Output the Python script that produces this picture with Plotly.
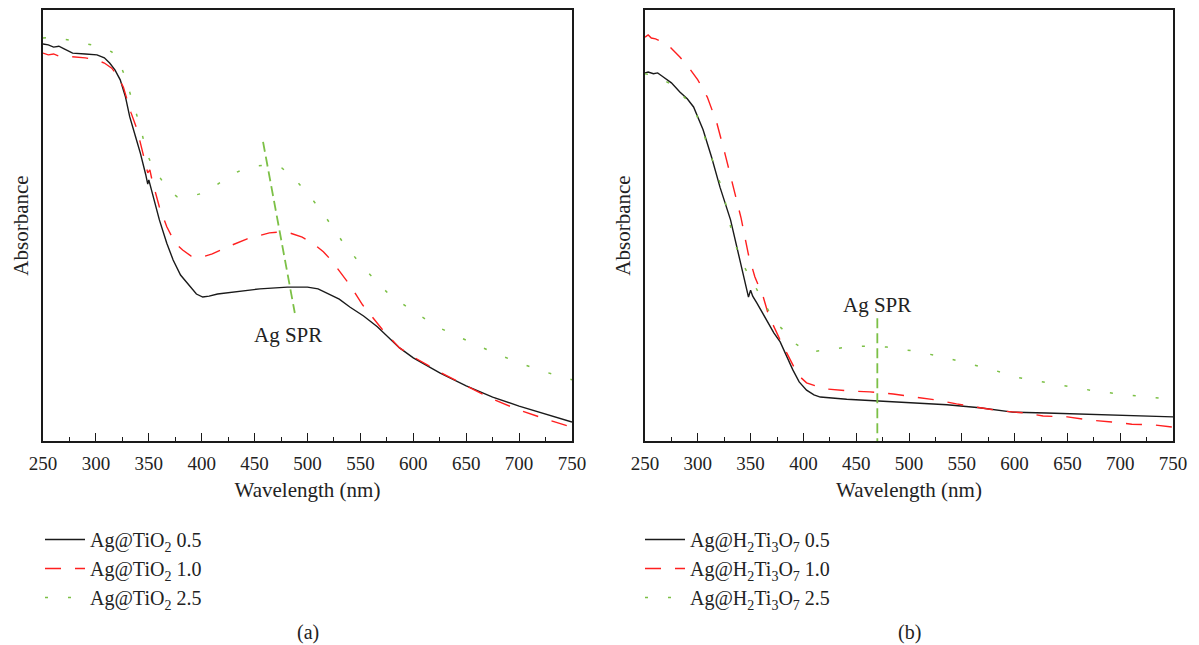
import plotly.graph_objects as go

# ---- panel (a): Ag@TiO2 ----
wl_a_05 = [250, 255, 260, 265, 270, 278, 290, 301, 308, 313, 318, 323, 328, 332, 337, 342, 347, 349, 350, 353,
           360, 367, 373, 380, 389, 395, 401, 407, 415, 430, 455, 481, 500, 510, 518, 530, 540, 553, 566, 587,
           600, 625, 650, 675, 700, 725, 750]
abs_a_05 = [0.921, 0.919, 0.914, 0.916, 0.910, 0.900, 0.898, 0.896, 0.889, 0.877, 0.861, 0.838, 0.798, 0.752,
            0.710, 0.668, 0.619, 0.596, 0.606, 0.578, 0.513, 0.459, 0.420, 0.385, 0.357, 0.341, 0.334, 0.336,
            0.341, 0.346, 0.353, 0.357, 0.357, 0.353, 0.343, 0.329, 0.311, 0.290, 0.265, 0.216, 0.193, 0.158,
            0.128, 0.102, 0.081, 0.063, 0.044]

wl_a_10 = [250, 255, 260, 265, 270, 280, 290, 300, 308, 315, 320, 326, 333, 339, 345, 349, 351, 353, 360, 367,
           375, 382, 390, 398, 410, 424, 443, 464, 475, 483, 495, 505, 515, 523, 540, 552, 571, 587, 600, 625,
           650, 675, 700, 725, 750]
abs_a_10 = [0.900, 0.896, 0.898, 0.893, 0.893, 0.891, 0.889, 0.884, 0.877, 0.865, 0.849, 0.821, 0.763, 0.722,
            0.664, 0.622, 0.629, 0.606, 0.543, 0.497, 0.459, 0.443, 0.429, 0.425, 0.434, 0.450, 0.469, 0.483,
            0.485, 0.483, 0.473, 0.459, 0.439, 0.418, 0.362, 0.316, 0.258, 0.216, 0.195, 0.160, 0.128, 0.097,
            0.072, 0.051, 0.032]

wl_a_25 = [250, 258, 276, 293, 305, 315, 322, 327, 334, 342, 348, 353, 359, 367, 377, 390, 401, 414, 427, 440,
           450, 463, 476, 487, 498, 508, 517, 534, 554, 576, 602, 627, 650, 675, 700, 725, 750]
abs_a_25 = [0.935, 0.937, 0.930, 0.921, 0.914, 0.903, 0.879, 0.849, 0.791, 0.729, 0.668, 0.640, 0.617, 0.587,
            0.566, 0.568, 0.575, 0.594, 0.617, 0.631, 0.638, 0.640, 0.633, 0.610, 0.580, 0.550, 0.520, 0.459,
            0.399, 0.343, 0.297, 0.260, 0.234, 0.206, 0.181, 0.160, 0.142]

# ---- panel (b): Ag@H2Ti3O7 ----
wl_b_05 = [250, 253, 258, 262, 267, 275, 283, 290, 296, 305, 313, 321, 331, 340, 346, 348, 350, 352, 356, 364,
           372, 378, 384, 390, 396, 403, 410, 416, 441, 470, 504, 536, 567, 598, 630, 662, 700, 750]
abs_b_05 = [0.854, 0.856, 0.852, 0.854, 0.845, 0.831, 0.810, 0.794, 0.775, 0.722, 0.659, 0.589, 0.513, 0.420,
            0.362, 0.334, 0.350, 0.336, 0.320, 0.285, 0.251, 0.230, 0.197, 0.165, 0.137, 0.118, 0.107, 0.102,
            0.097, 0.093, 0.090, 0.084, 0.077, 0.067, 0.065, 0.063, 0.060, 0.056]

wl_b_10 = [250, 253, 256, 260, 271, 283, 292, 300, 309, 318, 326, 333, 341, 348, 354, 362, 367, 378, 387, 395,
           403, 420, 444, 463, 485, 504, 526, 545, 567, 586, 610, 627, 650, 670, 692, 711, 733, 750]
abs_b_10 = [0.937, 0.942, 0.935, 0.933, 0.921, 0.891, 0.865, 0.838, 0.798, 0.738, 0.664, 0.594, 0.517, 0.432,
            0.381, 0.334, 0.292, 0.234, 0.193, 0.153, 0.135, 0.121, 0.116, 0.114, 0.109, 0.102, 0.095, 0.086,
            0.077, 0.070, 0.065, 0.058, 0.056, 0.049, 0.044, 0.039, 0.037, 0.032]

wl_b_25 = [250, 260, 276, 290, 296, 305, 313, 321, 328, 333, 342, 351, 358, 365, 373, 383, 393, 404, 416, 428,
           441, 454, 467, 479, 491, 504, 528, 553, 577, 602, 627, 652, 676, 700, 725, 750]
abs_b_25 = [0.852, 0.847, 0.826, 0.791, 0.775, 0.717, 0.659, 0.599, 0.536, 0.473, 0.413, 0.374, 0.343, 0.311,
            0.276, 0.253, 0.225, 0.206, 0.209, 0.213, 0.218, 0.220, 0.220, 0.218, 0.213, 0.209, 0.197, 0.181,
            0.167, 0.148, 0.137, 0.125, 0.116, 0.109, 0.102, 0.097]

# Ag SPR marker lines (wavelength, absorbance)
spr_a_x = [458, 488]
spr_a_y = [0.694, 0.297]
spr_b_x = [470, 470]
spr_b_y = [0.285, 0.0]

names_a = ['Ag@TiO<sub>2</sub> 0.5', 'Ag@TiO<sub>2</sub> 1.0', 'Ag@TiO<sub>2</sub> 2.5']
names_b = ['Ag@H<sub>2</sub>Ti<sub>3</sub>O<sub>7</sub> 0.5', 'Ag@H<sub>2</sub>Ti<sub>3</sub>O<sub>7</sub> 1.0',
           'Ag@H<sub>2</sub>Ti<sub>3</sub>O<sub>7</sub> 2.5']

BLACK = '#1a1a1a'
RED = '#ff1f1f'
GREEN = '#7cc046'
FONT = 'Liberation Serif'
TXT = '#222'

styles = [dict(color=BLACK, width=1.4, dash='solid'),
          dict(color=RED, width=1.4, dash='16px,14px'),
          dict(color=GREEN, width=1.5, dash='3px,20px')]

fig = go.Figure()

series_a = [(wl_a_05, abs_a_05), (wl_a_10, abs_a_10), (wl_a_25, abs_a_25)]
series_b = [(wl_b_05, abs_b_05), (wl_b_10, abs_b_10), (wl_b_25, abs_b_25)]

for i, (x, y) in enumerate(series_a):
    fig.add_trace(go.Scatter(x=x, y=y, mode='lines', name=names_a[i], line=styles[i],
                             legendgroup='a%d' % i, legend='legend', xaxis='x', yaxis='y'))
for i, (x, y) in enumerate(series_b):
    fig.add_trace(go.Scatter(x=x, y=y, mode='lines', name=names_b[i], line=styles[i],
                             legendgroup='b%d' % i, legend='legend2', xaxis='x2', yaxis='y2'))

# SPR guide lines
fig.add_trace(go.Scatter(x=spr_a_x, y=spr_a_y, mode='lines', showlegend=False,
                         line=dict(color=GREEN, width=1.8, dash='10px,5px'), xaxis='x', yaxis='y'))
fig.add_trace(go.Scatter(x=spr_b_x, y=spr_b_y, mode='lines', showlegend=False,
                         line=dict(color=GREEN, width=1.8, dash='10px,5px'), xaxis='x2', yaxis='y2'))

xaxis_common = dict(
    range=[250, 750], dtick=50, tick0=250, automargin=False,
    ticks='inside', ticklen=8, tickwidth=1.2, tickcolor=BLACK,
    minor=dict(ticks='inside', ticklen=4, dtick=25, tick0=250, tickcolor=BLACK, tickwidth=1.2),
    showline=True, mirror=True, linecolor=BLACK, linewidth=1.5,
    showgrid=False, zeroline=False,
    tickfont=dict(family=FONT, size=19, color=TXT),
    ticklabelstandoff=4,
    title=dict(text='Wavelength (nm)', font=dict(family=FONT, size=21, color=TXT), standoff=10),
)
yaxis_common = dict(
    range=[0, 1], showticklabels=False, ticks='', automargin=False,
    showline=True, mirror=True, linecolor=BLACK, linewidth=1.5,
    showgrid=False, zeroline=False,
    title=dict(text='Absorbance', font=dict(family=FONT, size=21, color=TXT), standoff=7),
)

legend_common = dict(
    font=dict(family=FONT, size=20, color=TXT),
    bgcolor='rgba(0,0,0,0)', xanchor='left', yanchor='top',
    traceorder='grouped', tracegroupgap=0, itemwidth=40,
)

fig.update_layout(
    width=1199, height=645,
    margin=dict(l=0, r=0, t=0, b=0, autoexpand=False),
    paper_bgcolor='white', plot_bgcolor='white',
    xaxis=dict(domain=[43 / 1199, 572 / 1199], anchor='y', **xaxis_common),
    yaxis=dict(domain=[1 - 441 / 645, 1 - 10 / 645], anchor='x', **yaxis_common),
    xaxis2=dict(domain=[645 / 1199, 1173 / 1199], anchor='y2', **xaxis_common),
    yaxis2=dict(domain=[1 - 441 / 645, 1 - 10 / 645], anchor='x2', **yaxis_common),
    legend=dict(x=40 / 1199, y=1 - 520 / 645, **legend_common),
    legend2=dict(x=640 / 1199, y=1 - 520 / 645, **legend_common),
    showlegend=True,
    annotations=[
        dict(text='Ag SPR', x=481.6, y=0.246, xref='x', yref='y', showarrow=False,
             xanchor='center', yanchor='middle', font=dict(family=FONT, size=21, color=TXT)),
        dict(text='Ag SPR', x=470, y=0.316, xref='x2', yref='y2', showarrow=False,
             xanchor='center', yanchor='middle', font=dict(family=FONT, size=21, color=TXT)),
        dict(text='(a)', x=308 / 1199, y=1 - 632 / 645, xref='paper', yref='paper', showarrow=False,
             xanchor='center', yanchor='middle', font=dict(family=FONT, size=20, color=TXT)),
        dict(text='(b)', x=910 / 1199, y=1 - 632 / 645, xref='paper', yref='paper', showarrow=False,
             xanchor='center', yanchor='middle', font=dict(family=FONT, size=20, color=TXT)),
    ],
)

fig.write_html("out.html", config={'displayModeBar': False},
               post_script="document.body.style.margin='0';")
